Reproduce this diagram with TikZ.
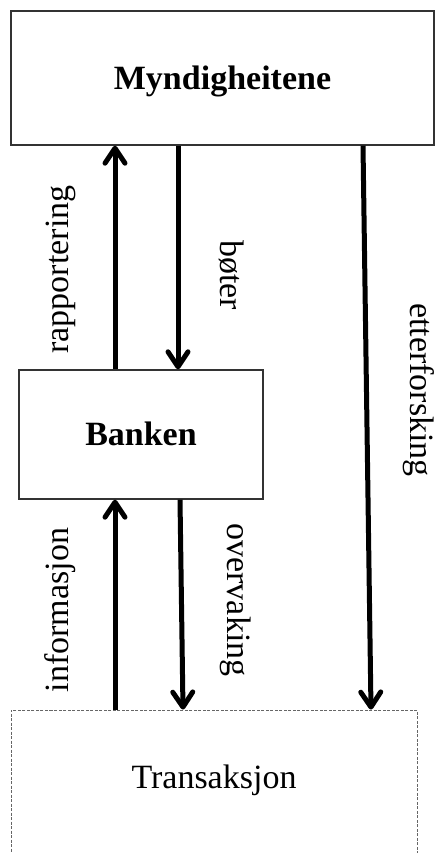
\documentclass[tikz,border=0pt]{standalone}
\usepackage{fontspec}
\setmainfont{Liberation Serif}
\usetikzlibrary{arrows.meta}
\begin{document}
\begin{tikzpicture}[x=1pt,y=-1pt,
  solidbox/.style={draw=black!80, line width=1.4pt, rectangle, inner sep=0pt,
    font=\fontsize{34}{40}\selectfont\bfseries, text height=22.5pt, text depth=0pt},
  dashbox/.style={draw=black!60, line width=0.9pt, dash pattern=on 3pt off 1.5pt, rectangle, inner sep=0pt},
  lbl/.style={font=\fontsize{34}{40}\selectfont, inner sep=0pt, anchor=base},
  arr/.style={line width=5pt, -{Straight Barb[length=15pt,width=20pt,line join=round,line cap=round]}}
]
\useasboundingbox (0,0) rectangle (435,853);

\node[solidbox, minimum width=423pt, minimum height=134pt] (myn) at (222.5,78) {Myndigheitene};
\node[solidbox, minimum width=244pt, minimum height=129pt] (bank) at (141,434.5) {Banken};
\node[dashbox, minimum width=406pt, minimum height=170pt] (trans) at (214,795) {};
\node[lbl] (transtext) at (214,788) {Transaksjon};

\coordinate (cRap) at (115,0);
\coordinate (cBot) at (178,0);
\coordinate (cInfT) at (115,0);
\coordinate (cOvT) at (180,0);
\coordinate (cOvB) at (183,0);
\coordinate (cEtT) at (363,0);
\coordinate (cEtB) at (371,0);

\draw[arr] (cRap |- bank.north) -- (cRap |- myn.south);
\draw[arr] (cBot |- myn.south) -- (cBot |- bank.north);
\draw[arr] (cInfT |- trans.north) -- (cInfT |- bank.south);
\draw[arr] (cOvT |- bank.south) -- (cOvB |- trans.north);
\draw[arr] (cEtT |- myn.south) -- (cEtB |- trans.north);

\node[lbl, rotate=90] (lrap) at (68,269.5) {rapportering};
\node[lbl, rotate=-90] (lbot) at (220,275) {bøter};
\node[lbl, rotate=90] (linf) at (68,610) {informasjon};
\node[lbl, rotate=-90] (lov) at (227,600) {overvaking};
\node[lbl, rotate=-90] (let) at (410,390) {etterforsking};
\end{tikzpicture}
\end{document}
